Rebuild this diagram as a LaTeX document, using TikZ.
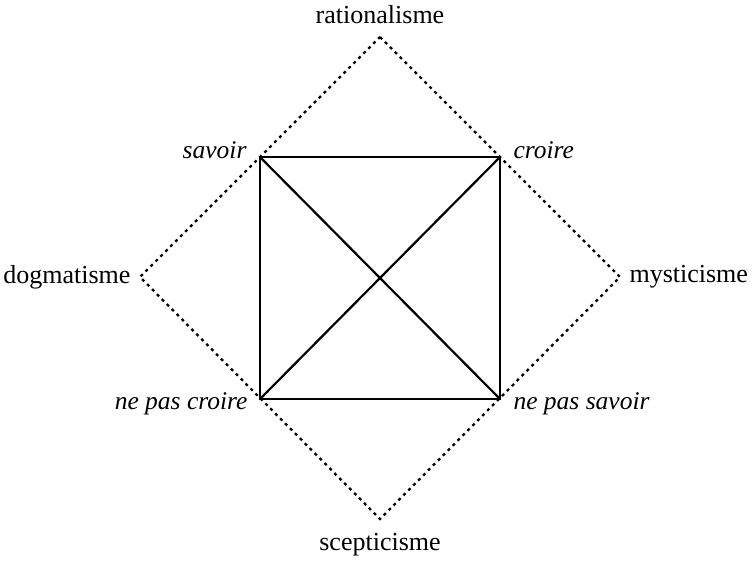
\documentclass[tikz,border=0pt]{standalone}
\usepackage{fontspec}
\setmainfont{Liberation Serif}
\begin{document}
\begin{tikzpicture}[x=1pt,y=-1pt,
  solidline/.style={line width=2.2pt},
  dotline/.style={line width=2.3pt,dash pattern=on 3pt off 4pt},
  lbl/.style={font=\fontsize{26}{30}\selectfont},
  ilbl/.style={font=\fontsize{25.5}{30}\selectfont\itshape}]
\useasboundingbox (0,0) rectangle (752,560);
\coordinate (S) at (260,157);
\coordinate (C) at (500,157);
\coordinate (NC) at (260,399);
\coordinate (NS) at (500,399);
\coordinate (T) at (380,37);
\coordinate (R) at (620,277);
\coordinate (B) at (380,519);
\coordinate (L) at (140,277);
\draw[dotline] (T) -- (R) -- (B) -- (L) -- cycle;
\draw[solidline] (S) -- (C) -- (NS) -- (NC) -- cycle;
\draw[solidline] (S) -- (NS);
\draw[solidline] (C) -- (NC);
\node[lbl] (rat) at (380,15) {rationalisme};
\node[lbl] (scep) at (380,545) {scepticisme};
\node[lbl,anchor=east] (dog) at (134,277) {dogmatisme};
\node[lbl,anchor=west] (mys) at (626,277) {mysticisme};
\node[ilbl,anchor=east] (sav) at (250,150) {savoir};
\node[ilbl,anchor=west] (cro) at (510,150) {croire};
\node[ilbl,anchor=east] (npc) at (251,404) {ne pas croire};
\node[ilbl,anchor=west] (nps) at (510,404) {ne pas savoir};
\end{tikzpicture}
\end{document}
